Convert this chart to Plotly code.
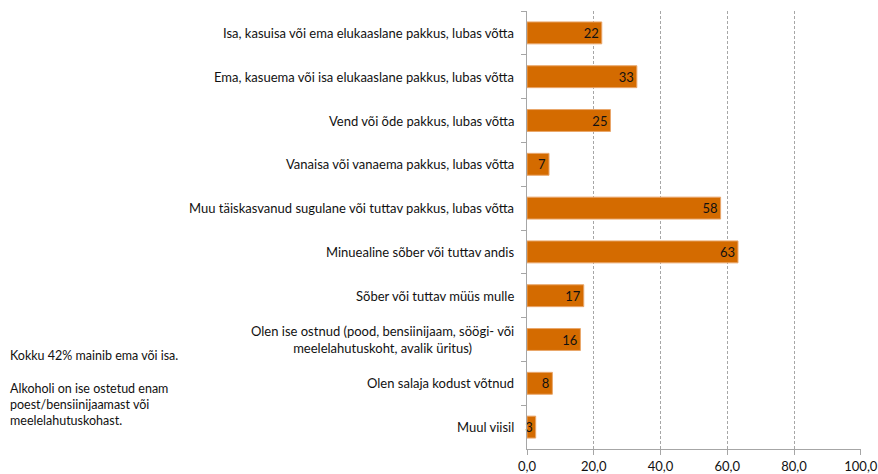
import plotly.graph_objects as go

categories = [
    "Isa, kasuisa või ema elukaaslane pakkus, lubas võtta",
    "Ema, kasuema või isa elukaaslane pakkus, lubas võtta",
    "Vend või õde pakkus, lubas võtta",
    "Vanaisa või vanaema pakkus, lubas võtta",
    "Muu täiskasvanud sugulane või tuttav pakkus, lubas võtta",
    "Minuealine sõber või tuttav andis",
    "Sõber või tuttav müüs mulle",
    "Olen ise ostnud (pood, bensiinijaam, söögi- või<br>meelelahutuskoht, avalik üritus)",
    "Olen salaja kodust võtnud",
    "Muul viisil",
]
values = [22.4, 32.9, 25.0, 6.6, 58.0, 63.2, 17.0, 16.0, 7.6, 2.6]
value_labels = ["22", "33", "25", "7", "58", "63", "17", "16", "8", "3"]
x_ticks = [0, 20, 40, 60, 80, 100]
side_note = ("Kokku 42% mainib ema või isa.<br><br>Alkoholi on ise ostetud enam<br>"
             "poest/bensiinijaamast või<br>meelelahutuskohast.")

FONT = "Lato"
TXT = "#111111"
GRID = "#a6a6a6"

fig = go.Figure()
fig.add_trace(go.Bar(
    x=values, y=categories, orientation="h",
    marker=dict(color="#d46b00", line=dict(color="#e9a66a", width=1)),
    text=value_labels, textposition="inside", insidetextanchor="end", textangle=0,
    textfont=dict(family=FONT, size=13, color=TXT),
    cliponaxis=False, hoverinfo="skip",
))

for c in categories:
    fig.add_annotation(x=0, xref="paper", y=c, yref="y", text=c, showarrow=False,
                       xanchor="right", align="center", xshift=-11,
                       font=dict(family=FONT, size=13, color=TXT))

fig.add_annotation(x=-519 / 334, xref="paper", y=0.235, yref="paper", yanchor="top",
                   xanchor="left", align="left", text=side_note, showarrow=False,
                   font=dict(family=FONT, size=12.5, color=TXT))

fig.update_layout(
    width=878, height=474,
    margin=dict(l=527, r=17, t=11, b=25),
    plot_bgcolor="white", paper_bgcolor="white",
    separators=", ",
    bargap=0.5,
    showlegend=False,
    uniformtext=dict(minsize=13, mode="show"),
    font=dict(family=FONT, size=13, color=TXT),
)
fig.update_xaxes(
    range=[0, 100.05], tickvals=x_ticks, tickformat=".1f",
    showgrid=True, gridcolor=GRID, griddash="3px,2px", gridwidth=1,
    zeroline=False, showline=True, linecolor=GRID, linewidth=1,
    ticks="outside", ticklen=5, tickcolor=GRID,
    tickfont=dict(family=FONT, size=13, color=TXT),
    ticklabeloverflow="allow",
    automargin=False, fixedrange=True,
)
fig.update_yaxes(
    autorange="reversed", showticklabels=False,
    showline=True, linecolor=GRID, linewidth=1,
    ticks="outside", tickson="boundaries", ticklen=5, tickcolor=GRID,
    showgrid=False, automargin=False, fixedrange=True,
)

fig.write_html("out.html", config={"displayModeBar": False},
               post_script="document.body.style.margin='0';")
